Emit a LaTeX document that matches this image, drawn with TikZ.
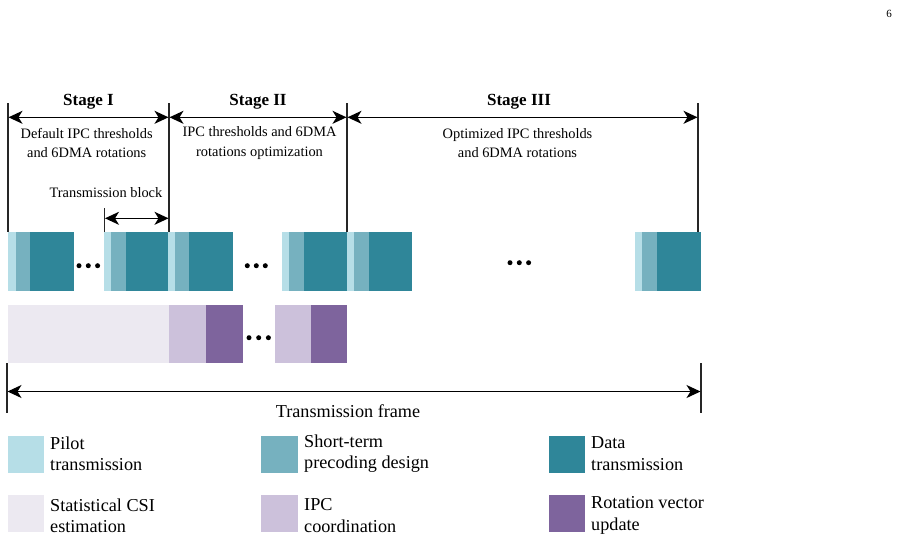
\documentclass[tikz,border=0pt]{standalone}
\usepackage{fontspec}
\setmainfont{Liberation Serif}
\usetikzlibrary{arrows.meta}
\definecolor{cpilot}{HTML}{B6DEE7}
\definecolor{cshort}{HTML}{76B1BF}
\definecolor{cdata}{HTML}{2F8699}
\definecolor{cstat}{HTML}{ECE9F1}
\definecolor{cipc}{HTML}{CCC1DB}
\definecolor{crot}{HTML}{7E649D}
\newcommand\seg[5]{% name, color, x1, x2, ytop
  \node[segbox, fill=#2, minimum width={#4-#3}, minimum height=59, anchor=north west] (#1) at (#3,#5) {};}
\newcommand\segb[5]{%
  \node[segbox, fill=#2, minimum width={#4-#3}, minimum height=58, anchor=north west] (#1) at (#3,#5) {};}
\begin{document}
\begin{tikzpicture}[x=1pt,y=-1pt,
  segbox/.style={inner sep=0pt, outer sep=0pt, draw=none},
  vline/.style={line width=1.3pt, black!85},
  arr/.style={line width=1.4pt, {Stealth[length=14pt,width=13pt,inset=4pt]}-{Stealth[length=14pt,width=13pt,inset=4pt]}},
  stagelbl/.style={font=\fontsize{17}{18}\selectfont\bfseries},
  small/.style={font=\fontsize{14.4}{19.7}\selectfont, align=center, inner sep=0pt},
  big/.style={font=\fontsize{18.2}{21.3}\selectfont, align=left, inner sep=0pt},
  legsq/.style={inner sep=0pt, minimum width=36.5, minimum height=36.5, anchor=north west},
  dot/.style={circle, fill=black, inner sep=0pt, minimum size=5pt}]
\useasboundingbox (0,0) rectangle (899,539);
\fill[white] (0,0) rectangle (899,539);

% page number
\node[font=\fontsize{11}{12}\selectfont] (pg) at (889,14) {6};

% ---- transmission blocks row
\seg{b1p}{cpilot}{8}{16}{232}\seg{b1s}{cshort}{16}{30}{232}\seg{b1d}{cdata}{30}{74}{232}
\seg{b2p}{cpilot}{104}{111}{232}\seg{b2s}{cshort}{111}{126}{232}\seg{b2d}{cdata}{126}{168}{232}
\seg{b3p}{cpilot}{168}{175}{232}\seg{b3s}{cshort}{175}{189}{232}\seg{b3d}{cdata}{189}{233}{232}
\seg{b4p}{cpilot}{282}{289}{232}\seg{b4s}{cshort}{289}{304}{232}\seg{b4d}{cdata}{304}{347}{232}
\seg{b5p}{cpilot}{347}{354}{232}\seg{b5s}{cshort}{354}{369}{232}\seg{b5d}{cdata}{369}{412}{232}
\seg{b6p}{cpilot}{635}{642}{232}\seg{b6s}{cshort}{642}{657}{232}\seg{b6d}{cdata}{657}{701}{232}

% dots
\node[dot] (d11) at (79,265.7) {};\node[dot] (d12) at (88.3,265.7) {};\node[dot] (d13) at (97.6,265.7) {};
\node[dot] (d21) at (247.3,265.7) {};\node[dot] (d22) at (256.3,265.7) {};\node[dot] (d23) at (265.3,265.7) {};
\node[dot] (d31) at (510,262.7) {};\node[dot] (d32) at (519.3,262.7) {};\node[dot] (d33) at (528.6,262.7) {};

% ---- second row
\segb{r1}{cstat}{8}{169}{304.5}
\segb{r2}{cipc}{169}{205.5}{304.5}\segb{r3}{crot}{205.5}{242.5}{304.5}
\segb{r4}{cipc}{274.5}{310.5}{304.5}\segb{r5}{crot}{310.5}{347}{304.5}
\node[dot] (e1) at (249,337.7) {};\node[dot] (e2) at (258.7,337.7) {};\node[dot] (e3) at (268.4,337.7) {};

% ---- stage boundaries
\coordinate (v1t) at (8,103);   \coordinate (v1b) at (8,232);
\coordinate (v2t) at (169,103); \coordinate (v2b) at (169,232);
\coordinate (v3t) at (347,103); \coordinate (v3b) at (347,232);
\coordinate (v4t) at (698,103); \coordinate (v4b) at (698,232);
\draw[vline] (v1t) -- (v1b);
\draw[vline] (v2t) -- (v2b);
\draw[vline] (v3t) -- (v3b);
\draw[vline] (v4t) -- (v4b);
\coordinate (a1) at (8.5,117.3);   \coordinate (a2) at (168.5,117.3);
\coordinate (a3) at (169.5,117.3); \coordinate (a4) at (346.5,117.3);
\coordinate (a5) at (347.5,117.3); \coordinate (a6) at (697.5,117.3);
\draw[arr] (a1) -- (a2);
\draw[arr] (a3) -- (a4);
\draw[arr] (a5) -- (a6);

\node[stagelbl] (st1) at (88.5,101.5) {Stage I};
\node[stagelbl] (st2) at (258,101.5) {Stage II};
\node[stagelbl] (st3) at (519,101.5) {Stage III};

\node[small] (t1) at (86.7,143) {Default IPC thresholds\\and 6DMA rotations};
\node[small] (t2) at (259.5,143) {IPC thresholds and 6DMA\\rotations optimization};
\node[small] (t3) at (517.5,143) {Optimized IPC thresholds\\and 6DMA rotations};

% transmission block
\coordinate (tbt) at (104.5,208); \coordinate (tbb) at (104.5,232);
\draw[vline] (tbt) -- (tbb);
\coordinate (tb1) at (105,218.3); \coordinate (tb2) at (168.5,218.3);
\draw[arr] (tb1) -- (tb2);
\node[small] (tbl) at (106,193) {Transmission block};

% transmission frame
\coordinate (f1t) at (7,363); \coordinate (f1b) at (7,412.5);
\coordinate (f2t) at (701,363); \coordinate (f2b) at (701,412.5);
\draw[vline] (f1t) -- (f1b);
\draw[vline] (f2t) -- (f2b);
\coordinate (fa) at (7.5,391.5); \coordinate (fb) at (700.5,391.5);
\draw[arr] (fa) -- (fb);
\node[big] (tf) at (348,411) {Transmission frame};

% ---- legend
\node[legsq, fill=cpilot] (l1) at (7.5,436) {};
\node[big, anchor=west] (l1t) at (50,453.5) {Pilot\\transmission};
\node[legsq, fill=cshort] (l2) at (261,436) {};
\node[big, anchor=west] (l2t) at (304,453.5) {Short-term\\precoding design};
\node[legsq, fill=cdata] (l3) at (548.5,436) {};
\node[big, anchor=west] (l3t) at (591,453.5) {Data\\transmission};
\node[legsq, fill=cstat] (l4) at (7.5,495) {};
\node[big, anchor=west] (l4t) at (50,515.5) {Statistical CSI\\estimation};
\node[legsq, fill=cipc] (l5) at (261,495) {};
\node[big, anchor=west] (l5t) at (304,515.5) {IPC\\coordination};
\node[legsq, fill=crot] (l6) at (548.5,495) {};
\node[big, anchor=west] (l6t) at (591,515.5) {Rotation vector\\update};
\end{tikzpicture}
\end{document}
